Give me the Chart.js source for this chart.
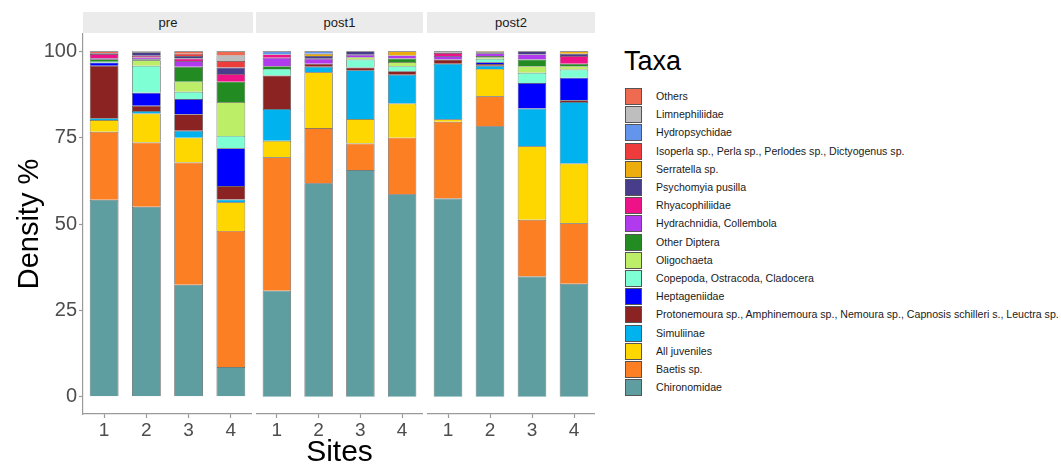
<!DOCTYPE html>
<html lang="en">
<head>
<meta charset="UTF-8">
<title>Density % by taxa</title>
<script src="https://cdn.jsdelivr.net/npm/chart.js"></script>
<style>
  body { margin: 0; background: #fff; font-family: "Liberation Sans", Arial, sans-serif; }
  #wrap { position: relative; width: 1061px; height: 468px; overflow: hidden; }
  #wrap canvas { position: absolute; top: 0; }
  .strip { position: absolute; top: 12px; height: 21px; background: #ebebeb; color: #1a1a1a;
           font-size: 13px; line-height: 21px; text-align: center; }
  #legendTitle { position: absolute; left: 624px; top: 46px; font-size: 27px; line-height: 30px; color: #000; }
  .lg-item { position: absolute; left: 625px; height: 17px; white-space: nowrap; }
  .lg-box { position: absolute; left: 0; top: 0; width: 15px; height: 15px; border: 1px solid #555; }
  .lg-text { position: absolute; left: 31px; top: 0; font-size: 10.6px; line-height: 17px; color: #1a1a1a; }
</style>
</head>
<body>
<div id="wrap"></div>

<script>
// sites inside each period panel
const sites = ["1", "2", "3", "4"];
const periods = ["pre", "post1", "post2"];
const yTicks = [0, 25, 50, 75, 100];

// Density % per taxon: pre 1-4, post1 1-4, post2 1-4
const chironomidae = [57.0, 55.0, 32.4, 8.6, 30.7, 61.8, 65.6, 58.6, 57.4, 78.3, 34.8, 32.7];
const baetis       = [19.7, 18.6, 35.4, 39.4, 38.6, 16.0, 7.7, 16.4, 22.2, 8.7, 16.4, 17.5];
const juveniles    = [3.4, 8.4, 7.2, 8.3, 4.8, 16.1, 7.1, 9.9, 0.7, 7.9, 21.3, 17.3];
const simuliinae   = [0.5, 0.7, 2.0, 0.8, 9.2, 1.6, 14.1, 8.3, 16.1, 0.9, 10.9, 17.8];
const protonemoura = [15.2, 1.5, 4.8, 3.9, 9.7, 0.9, 0.8, 1.0, 1.2, 0.5, 0, 0.5];
const heptageniidae = [0.9, 3.8, 4.4, 10.9, 0, 0, 0, 0, 0, 0.5, 7.4, 6.5];
const copepoda     = [0.3, 7.8, 2.1, 3.6, 1.9, 0, 2.3, 1.5, 0, 1.0, 3.0, 2.4];
const oligochaeta  = [0, 1.6, 2.9, 9.8, 0, 0, 0.7, 1.2, 0, 0.5, 1.9, 1.0];
const otherDiptera = [0.7, 0.3, 4.3, 5.9, 0.8, 0, 0, 1.0, 0, 0.3, 1.9, 0.7];
const hydrachnidia = [0.3, 0.5, 1.7, 0, 2.4, 1.4, 0.7, 0.9, 1.0, 0.8, 1.5, 0];
const rhyacophiliidae = [1.2, 0.5, 0.7, 2.2, 1.0, 0, 0, 0, 0.9, 0, 0, 2.2];
const psychomyia   = [0.2, 1.0, 0.7, 1.9, 0, 0.8, 1.0, 0, 0, 0.3, 0.9, 0.7];
const serratella   = [0, 0, 0, 0, 0, 0.7, 0, 1.2, 0, 0.3, 0, 0.7];
const isoperla     = [0, 0, 0.7, 1.9, 0, 0, 0, 0, 0, 0, 0, 0];
const hydropsychidae = [0, 0, 0, 0, 0.9, 0.7, 0, 0, 0, 0, 0, 0];
const limnephiliidae = [0, 0.3, 0, 1.6, 0, 0, 0, 0, 0.5, 0, 0, 0];
const others       = [0.6, 0, 0.7, 1.2, 0, 0, 0, 0, 0, 0, 0, 0];

// stacking order, bottom first
const taxaNames = ["Chironomidae", "Baetis sp.", "All juveniles", "Simuliinae",
  "Protonemoura sp., Amphinemoura sp., Nemoura sp., Capnosis schilleri s., Leuctra sp.",
  "Heptageniidae", "Copepoda, Ostracoda, Cladocera", "Oligochaeta", "Other Diptera",
  "Hydrachnidia, Collembola", "Rhyacophiliidae", "Psychomyia pusilla", "Serratella sp.",
  "Isoperla sp., Perla sp., Perlodes sp., Dictyogenus sp.", "Hydropsychidae",
  "Limnephiliidae", "Others"];
const taxaValues = [chironomidae, baetis, juveniles, simuliinae, protonemoura, heptageniidae,
  copepoda, oligochaeta, otherDiptera, hydrachnidia, rhyacophiliidae, psychomyia, serratella,
  isoperla, hydropsychidae, limnephiliidae, others];
const taxaColors = ["#5F9EA0", "#FC7F23", "#FFD700", "#00B2EE", "#8B2323", "#0000FF",
  "#7FFFD4", "#BCEE68", "#228B22", "#B23AEE", "#EE1289", "#483D8B", "#EEAD0E",
  "#EE3B3B", "#6495ED", "#BEBEBE", "#EE6A50"];

const wrap = document.getElementById("wrap");
const axisGray = "#9a9a9a";
const tickText = "#4d4d4d";

// panel geometry (canvas left/width, strip left/width)
const panels = [
  { left: 0,   width: 252, strip: [83, 170] },
  { left: 256, width: 167, strip: [256, 167] },
  { left: 427, width: 168, strip: [427, 168] }
];

panels.forEach((p, k) => {
  const strip = document.createElement("div");
  strip.className = "strip";
  strip.style.left = p.strip[0] + "px";
  strip.style.width = p.strip[1] + "px";
  strip.textContent = periods[k];
  wrap.appendChild(strip);

  const cv = document.createElement("canvas");
  cv.width = p.width;
  cv.height = 468;
  cv.style.left = p.left + "px";
  wrap.appendChild(cv);

  const datasets = taxaNames.map((name, i) => ({
    label: name,
    data: taxaValues[i].slice(k * 4, k * 4 + 4),
    backgroundColor: taxaColors[i],
    borderColor: "rgba(40,40,40,0.85)",
    borderWidth: 0.7,
    barPercentage: 0.68,
    categoryPercentage: 1
  }));

  new Chart(cv.getContext("2d"), {
    type: "bar",
    data: { labels: sites, datasets: datasets },
    options: {
      responsive: false,
      animation: false,
      layout: { padding: { top: 34, left: 0, right: 0, bottom: 0 } },
      plugins: { legend: { display: false }, tooltip: { enabled: false } },
      scales: {
        x: {
          stacked: true,
          grid: { drawOnChartArea: false, offset: false, tickLength: 4, tickColor: axisGray, tickWidth: 1.2 },
          border: { display: true, color: axisGray, width: 1.2 },
          ticks: { color: tickText, font: { family: "Liberation Sans", size: 19 }, padding: 1 },
          title: {
            display: k === 1, text: "Sites", color: "#000",
            font: { family: "Liberation Sans", size: 30, lineHeight: 1 }, padding: 0
          },
          afterFit: s => { s.height = 54; }
        },
        y: {
          display: k === 0,
          stacked: true,
          min: -5, max: 105,
          afterBuildTicks: s => { s.ticks = yTicks.map(v => ({ value: v })); },
          grid: { drawOnChartArea: false, tickLength: 4, tickColor: axisGray, tickWidth: 1.2 },
          border: { display: true, color: axisGray, width: 1.2 },
          ticks: { color: tickText, font: { family: "Liberation Sans", size: 20 }, padding: 2 },
          title: {
            display: true, text: "Density %", color: "#000",
            font: { family: "Liberation Sans", size: 29, lineHeight: 1 }, padding: { top: 15, bottom: 0 }
          },
          afterFit: s => { s.width = k === 0 ? 83 : 0; }
        }
      }
    }
  });
});

// legend, top entry is the last stacked taxon
const lt = document.createElement("div");
lt.id = "legendTitle";
lt.textContent = "Taxa";
wrap.appendChild(lt);

taxaNames.slice().reverse().forEach((name, j) => {
  const i = taxaNames.length - 1 - j;
  const item = document.createElement("div");
  item.className = "lg-item";
  item.style.top = (88 + j * 18.2) + "px";
  const box = document.createElement("div");
  box.className = "lg-box";
  box.style.background = taxaColors[i];
  const txt = document.createElement("div");
  txt.className = "lg-text";
  txt.textContent = name;
  item.appendChild(box);
  item.appendChild(txt);
  wrap.appendChild(item);
});
</script>
</body>
</html>
